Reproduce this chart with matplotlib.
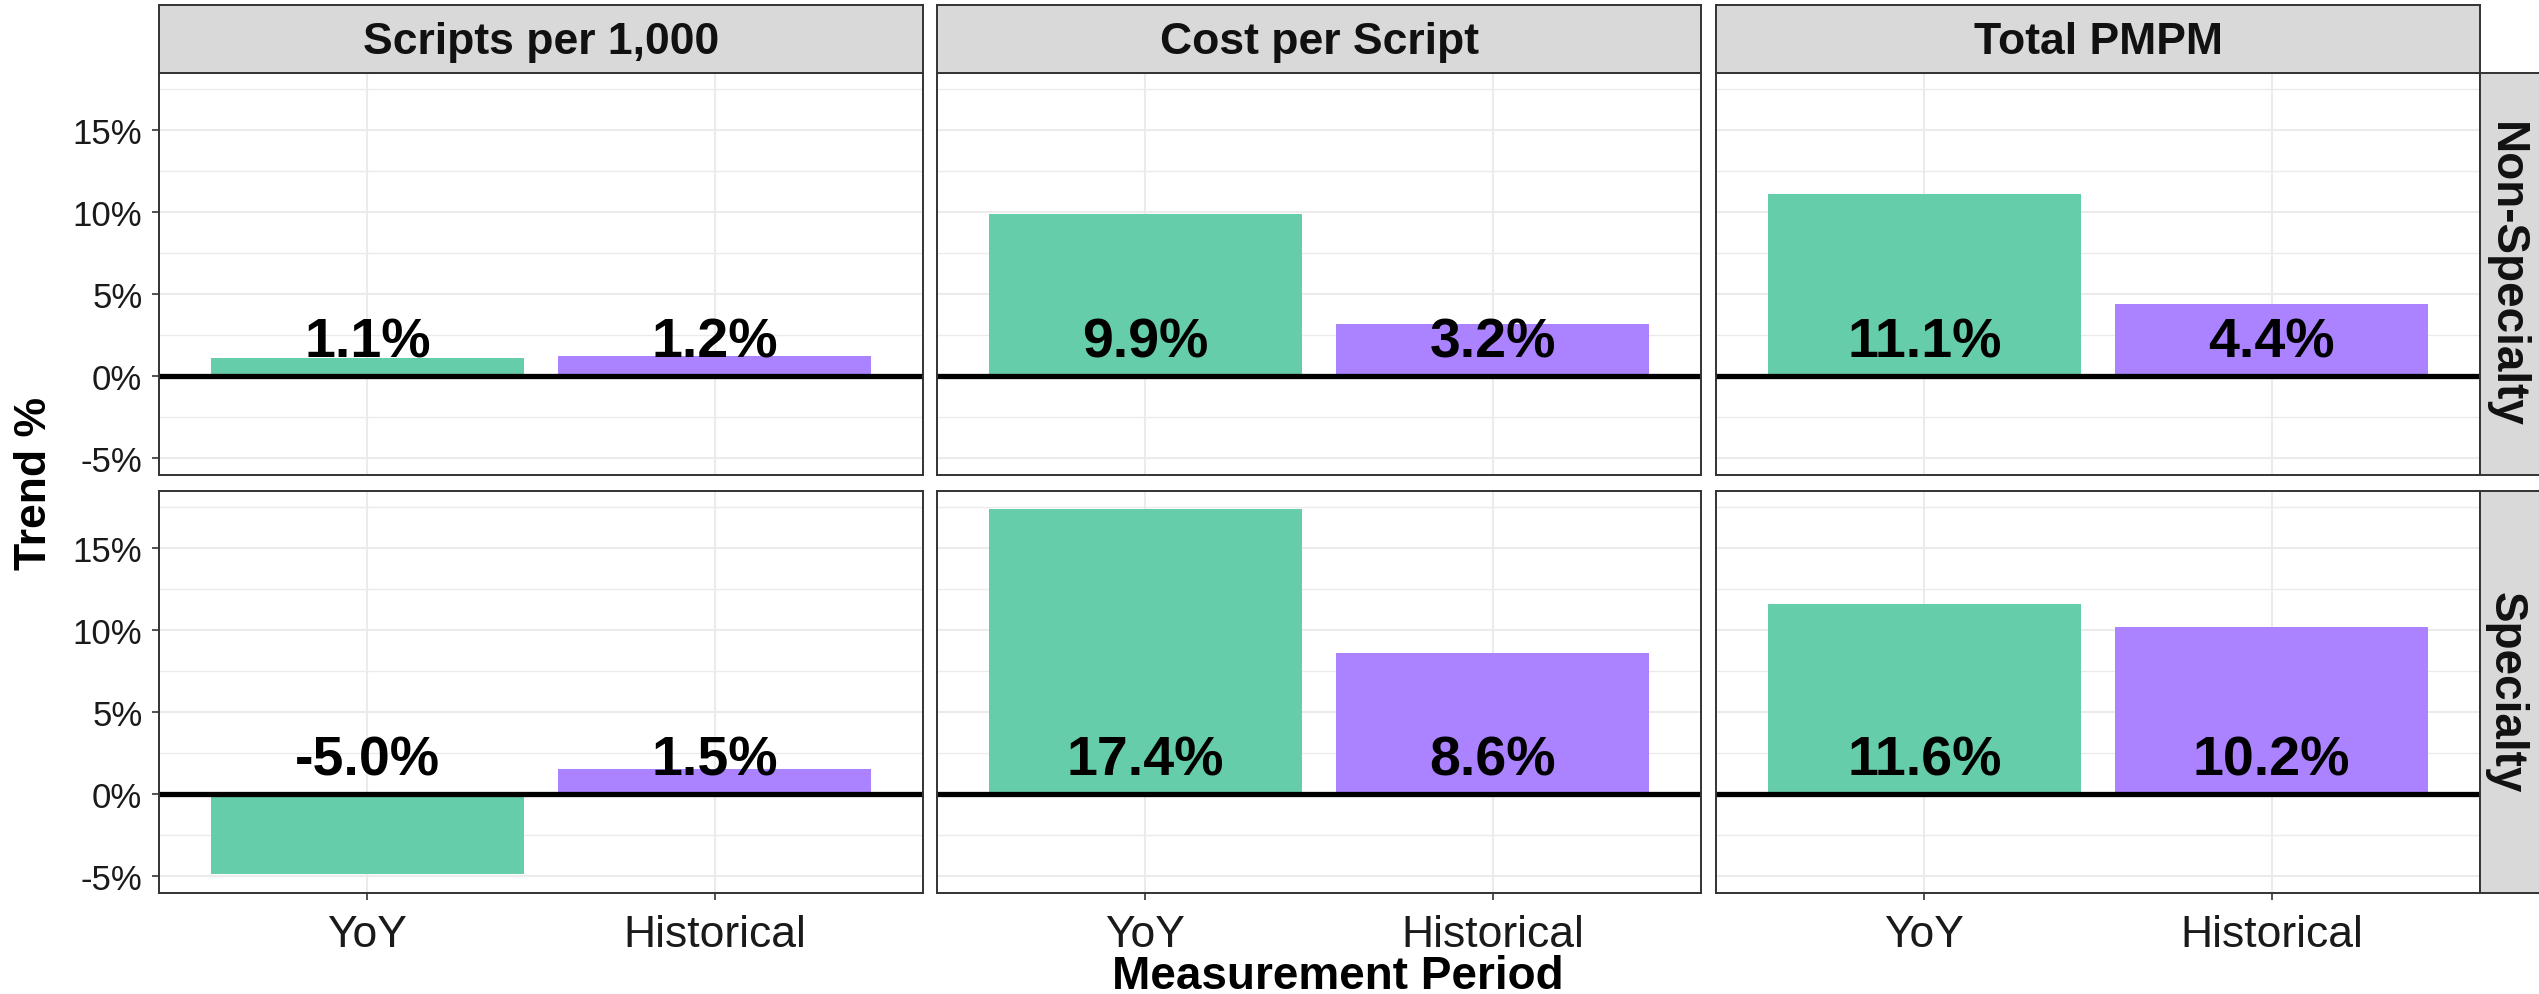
import matplotlib
matplotlib.use('Agg')
import matplotlib.pyplot as plt

plt.rcParams['font.family'] = ['Liberation Sans', 'DejaVu Sans']

# data
metrics = ['Scripts per 1,000', 'Cost per Script', 'Total PMPM']
groups = ['Non-Specialty', 'Specialty']
periods = ['YoY', 'Historical']

# bar heights (trend %) over metrics
nonspec_yoy = [1.1, 9.9, 11.1]
nonspec_hist = [1.2, 3.2, 4.4]
spec_yoy = [-4.85, 17.4, 11.6]
spec_hist = [1.5, 8.6, 10.2]

# printed labels
nonspec_yoy_lbl = ['1.1%', '9.9%', '11.1%']
nonspec_hist_lbl = ['1.2%', '3.2%', '4.4%']
spec_yoy_lbl = ['-5.0%', '17.4%', '11.6%']
spec_hist_lbl = ['1.5%', '8.6%', '10.2%']

yticks = [-5, 0, 5, 10, 15]
ytick_labels = ['-5%', '0%', '5%', '10%', '15%']
minor_ticks = [-2.5, 2.5, 7.5, 12.5, 17.5]

vals = {'Non-Specialty': (nonspec_yoy, nonspec_hist),
        'Specialty': (spec_yoy, spec_hist)}
lbls = {'Non-Specialty': (nonspec_yoy_lbl, nonspec_hist_lbl),
        'Specialty': (spec_yoy_lbl, spec_hist_lbl)}

colors = ['#66CDAA', '#AB82FF']
grey20 = '#333333'

W, H = 2539, 995
fig = plt.figure(figsize=(W / 100, H / 100), dpi=100)

def px_axes(x, y, w, h):
    # pixel box (from top-left) -> figure axes
    return fig.add_axes([x / W, 1 - (y + h) / H, w / W, h / H])

col_x = [159, 937, 1716]
col_w = 764
row_y = [74, 492]
row_h = 402
strip_h = 68

for r, g in enumerate(groups):
    yoy, hist = vals[g]
    yoy_l, hist_l = lbls[g]
    for c, m in enumerate(metrics):
        ax = px_axes(col_x[c], row_y[r], col_w, row_h)
        ax.bar([0, 1], [yoy[c], hist[c]], width=0.9, color=colors, zorder=2)
        ax.axhline(0, color='black', lw=3.8, zorder=3)
        for xi, t in zip([0, 1], [yoy_l[c], hist_l[c]]):
            ax.text(xi, 1.2, t, ha='center', va='baseline', fontsize=40,
                    fontweight='bold', color='black', zorder=4)
        ax.set_xlim(-0.6, 1.6)
        ax.set_ylim(-6.04, 18.5)
        ax.set_yticks(yticks)
        ax.set_yticks(minor_ticks, minor=True)
        ax.set_xticks([0, 1])
        ax.grid(which='major', color='#EBEBEB', lw=1.5, zorder=0)
        ax.grid(which='minor', axis='y', color='#EBEBEB', lw=1.0, zorder=0)
        ax.set_axisbelow(True)
        for s in ax.spines.values():
            s.set_color(grey20)
            s.set_linewidth(1.4)
            s.set_zorder(5)
        ax.tick_params(which='minor', length=0)
        ax.tick_params(which='major', color=grey20, length=5, width=1.2)
        if c == 0:
            ax.set_yticklabels(ytick_labels)
            ax.tick_params(axis='y', labelsize=25, pad=7, labelcolor='#1A1A1A')
        else:
            ax.tick_params(axis='y', length=0, labelleft=False)
        if r == 1:
            ax.set_xticklabels(periods)
            ax.tick_params(axis='x', labelsize=32, pad=10, labelcolor='#1A1A1A')
        else:
            ax.tick_params(axis='x', length=0, labelbottom=False)

        # top strips
        if r == 0:
            sa = px_axes(col_x[c], row_y[0] - strip_h, col_w, strip_h)
            sa.set_facecolor('#D9D9D9')
            sa.set_xticks([])
            sa.set_yticks([])
            for s in sa.spines.values():
                s.set_color(grey20)
                s.set_linewidth(1.4)
            sa.text(0.5, 0.47, m, ha='center', va='center', fontsize=32,
                    fontweight='bold', color='#111111', transform=sa.transAxes)

    # right strips
    ra = px_axes(2480, row_y[r], 62, row_h)
    ra.set_facecolor('#D9D9D9')
    ra.set_xticks([])
    ra.set_yticks([])
    for s in ra.spines.values():
        s.set_color(grey20)
        s.set_linewidth(1.4)
    ra.text(0.42, 0.5, g, ha='center', va='center', rotation=-90, fontsize=33,
            fontweight='bold', color='#111111', transform=ra.transAxes)

# axis titles
fig.text(35 / W, 1 - 484 / H, 'Trend %', rotation=90, ha='center', va='center',
         fontsize=32, fontweight='bold', color='black')
fig.text(1338 / W, 1 - 989 / H, 'Measurement Period', ha='center', va='baseline',
         fontsize=33, fontweight='bold', color='black')

fig.savefig('out.png', dpi=100)
